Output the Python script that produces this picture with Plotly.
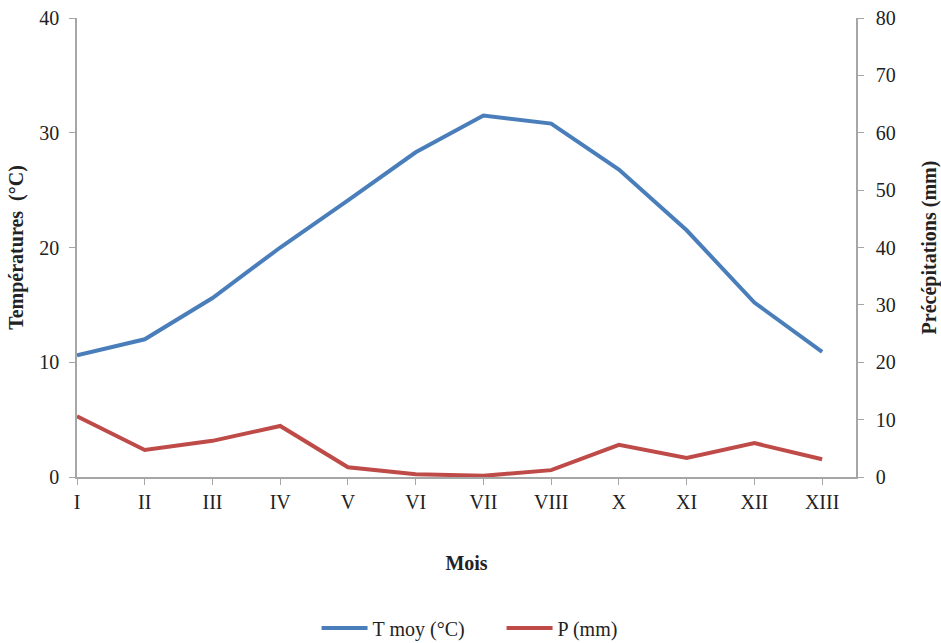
import plotly.graph_objects as go

mois = ["I", "II", "III", "IV", "V", "VI", "VII", "VIII", "X", "XI", "XII", "XIII"]
t_moy = [10.6, 12.0, 15.6, 20.0, 24.1, 28.3, 31.5, 30.8, 26.8, 21.5, 15.2, 10.9]
precip = [10.6, 4.7, 6.3, 8.9, 1.7, 0.5, 0.2, 1.2, 5.6, 3.3, 5.9, 3.1]

pos = list(range(len(mois)))
font = "Liberation Serif, Times New Roman, serif"

fig = go.Figure()
fig.add_trace(go.Scatter(x=pos, y=t_moy, mode="lines", name="T moy (°C)",
                         line=dict(color="#4A7EBB", width=4)))
fig.add_trace(go.Scatter(x=pos, y=precip, mode="lines", name="P (mm)", yaxis="y2",
                         line=dict(color="#BE4B48", width=4)))

axis_style = dict(showgrid=False, zeroline=False, showline=True, linecolor="#A6A6A6",
                  linewidth=1.5, ticks="outside", ticklen=6, tickcolor="#A6A6A6",
                  automargin=False)

fig.update_layout(
    width=941, height=643,
    margin=dict(l=77, r=85, t=18, b=166),
    plot_bgcolor="white", paper_bgcolor="white",
    font=dict(family=font, size=20, color="#222"),
    showlegend=True,
    legend=dict(orientation="h", x=0.545, xanchor="center", yref="container",
                y=0.0233, yanchor="middle", font=dict(size=20),
                itemwidth=46, entrywidth=124, traceorder="normal"),
    xaxis=dict(range=[0, 11.5], tickvals=pos, ticktext=mois,
               title=dict(text="<b>Mois</b>", standoff=44, font=dict(size=20)),
               **axis_style),
    yaxis=dict(range=[0, 40], dtick=10, ticklabelstandoff=6,
               title=dict(text="<b>Températures  (°C)</b>", standoff=10, font=dict(size=20)),
               **axis_style),
    yaxis2=dict(range=[0, 80], dtick=10, overlaying="y", side="right", ticklabelstandoff=8,
                title=dict(text="<b>Précépitations (mm)</b>", standoff=40, font=dict(size=20)),
                **axis_style),
)

# drop the default body margin so the figure sits at the window corner
fig.write_html("out.html", config={"displayModeBar": False},
               post_script="document.body.style.margin='0';")
